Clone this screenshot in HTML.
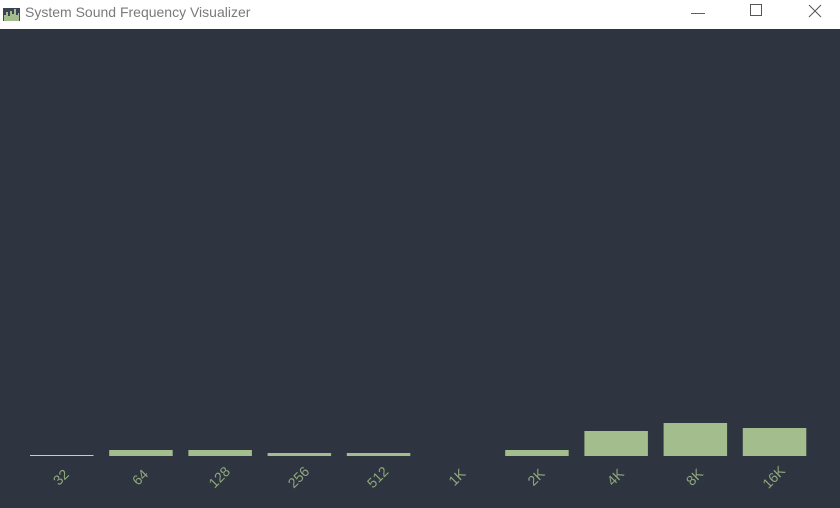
<!DOCTYPE html>
<html><head><meta charset="utf-8"><style>
html,body{margin:0;padding:0;width:840px;height:508px;overflow:hidden;background:#2e3440;font-family:"Liberation Sans",sans-serif}
#titlebar{position:absolute;left:0;top:0;width:840px;height:29px;background:#fff}
#title{position:absolute;left:25px;top:4px;font-size:14px;color:#7a7a7a}
.wb{position:absolute;top:0;height:29px;width:46px;color:#555;font-size:14px;text-align:center;line-height:24px}
</style></head><body>
<div id="titlebar">
<svg style="position:absolute;left:3px;top:5px" width="17" height="16">
<rect x="0" y="3" width="17" height="13" fill="#3b4252"/>
<path d="M1 16 V10 H3 V7 H5 V11 H7 V6 H9 V9 H11 V4 H13 V10 H15 V8 H16 V16Z" fill="#a3be8c"/>
</svg>
<div id="title">System Sound Frequency Visualizer</div>
<div class="wb" style="left:675px">&#8212;</div>
<div class="wb" style="left:733px"><div style="width:10px;height:10px;border:1px solid #555;margin:4px auto 0"></div></div>
<svg class="wb" style="left:792px" width="46" height="29"><path d="M17 5 L29 17 M29 5 L17 17" stroke="#555" stroke-width="1"/></svg>
</div>
<svg id="chart" width="840" height="508" style="position:absolute;left:0;top:0"></svg>
<script>
const categories=["32","64","128","256","512","1K","2K","4K","8K","16K"];
const values=[1,6,6,3,3,0,6,25,33,28];
const maxValue=426;
const svg=document.getElementById('chart');
const NS='http://www.w3.org/2000/svg';
const x0=30,slot=79.2,bw=63.5,baseY=456,plotH=426;
function xPos(i){return x0+i*slot;}
function yScale(v){return v/maxValue*plotH;}
categories.forEach((c,i)=>{
  const h=yScale(values[i]);
  if(h>0){
    const r=document.createElementNS(NS,'rect');
    r.setAttribute('x',xPos(i));r.setAttribute('y',baseY-h);
    r.setAttribute('width',bw);r.setAttribute('height',h);
    r.setAttribute('fill',i===0?'#c8cfc0':'#a3be8c');
    
    
    svg.appendChild(r);
  }
  const t=document.createElementNS(NS,'text');
  const cx=xPos(i)+bw/2, cy=478;
  t.setAttribute('x',cx);t.setAttribute('y',cy);
  t.setAttribute('text-anchor','middle');t.setAttribute('dominant-baseline','middle');
  t.setAttribute('transform','rotate(-45 '+cx+' '+cy+')');
  t.setAttribute('fill','#8fa87c');t.setAttribute('font-size','14');
  t.setAttribute('font-family','Liberation Sans, sans-serif');
  t.textContent=c;
  
  
  svg.appendChild(t);
});
</script>
</body></html>
